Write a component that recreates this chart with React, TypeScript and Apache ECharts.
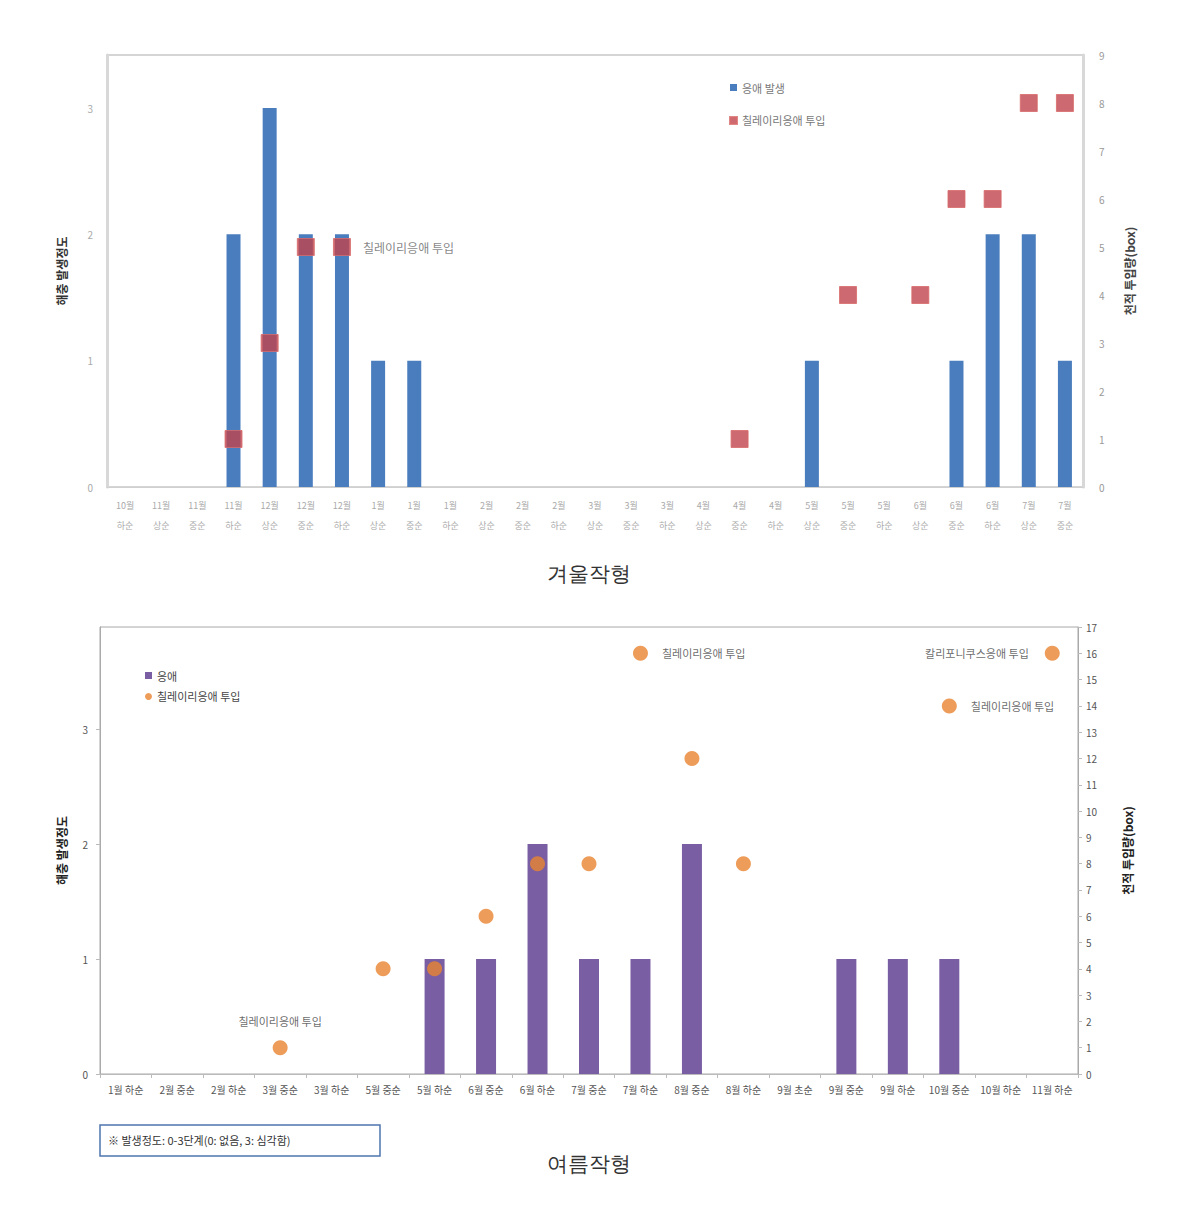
import React, { useEffect, useRef } from "react";
import * as echarts from "echarts";

// ---------- Winter crop (겨울작형) ----------
const winterCategories = [
  "10월\n하순", "11월\n상순", "11월\n중순", "11월\n하순", "12월\n상순", "12월\n중순", "12월\n하순",
  "1월\n상순", "1월\n중순", "1월\n하순", "2월\n상순", "2월\n중순", "2월\n하순",
  "3월\n상순", "3월\n중순", "3월\n하순", "4월\n상순", "4월\n중순", "4월\n하순",
  "5월\n상순", "5월\n중순", "5월\n하순", "6월\n상순", "6월\n중순", "6월\n하순",
  "7월\n상순", "7월\n중순",
];
const winterMites = [null, null, null, 2, 3, 2, 2, 1, 1, null, null, null, null, null, null, null, null, null, null, 1, null, null, null, 1, 2, 2, 1];
const winterRelease = [null, null, null, 1, 3, 5, 5, null, null, null, null, null, null, null, null, null, null, 1, null, null, 4, null, 4, 6, 6, 8, 8];
const winterAnnotIndex = 6;

// ---------- Summer crop (여름작형) ----------
const summerCategories = [
  "1월 하순", "2월 중순", "2월 하순", "3월 중순", "3월 하순", "5월 중순", "5월 하순", "6월 중순", "6월 하순",
  "7월 중순", "7월 하순", "8월 중순", "8월 하순", "9월 초순", "9월 중순", "9월 하순", "10월 중순", "10월 하순", "11월 하순",
];
const summerMites = [null, null, null, null, null, null, 1, 1, 2, 1, 1, 2, null, null, 1, 1, 1, null, null];
const summerRelease = [null, null, null, 1, null, 4, 4, 6, 8, 8, 16, 12, 8, null, null, null, 14, null, 16];

const seriesMite = "응애 발생";
const seriesMiteSummer = "응애";
const seriesRelease = "칠레이리응애 투입";
const labelChilei = "칠레이리응애 투입";
const labelCalif = "칼리포니쿠스응애 투입";
const leftAxisName = "해충 발생정도";
const rightAxisName = "천적 투입량(box)";
const footnote = "※ 발생정도: 0-3단계(0: 없음, 3: 심각함)";

const FONT = "'Noto Sans CJK KR', 'Noto Sans', sans-serif";

function buildWinter(): any {
  const releaseData = winterRelease.map((v, i) => {
    if (i === winterAnnotIndex && v != null) {
      return {
        value: v,
        label: { show: true, position: "right", distance: 12, formatter: labelChilei, color: "#666", fontSize: 12, fontFamily: FONT },
      };
    }
    return v;
  });
  return {
    animation: false,
    textStyle: { fontFamily: FONT },
    grid: { left: 107, right: 94, top: 55, height: 432, show: true, borderColor: "#c8c8c8", borderWidth: 1.5, backgroundColor: "#fff" },
    legend: {
      orient: "vertical",
      left: 724,
      top: 77,
      itemGap: 22,
      itemWidth: 7,
      itemHeight: 7,
      textStyle: { fontSize: 11, color: "#777", fontFamily: FONT },
      data: [
        { name: seriesMite, icon: "rect" },
        { name: seriesRelease, icon: "rect" },
      ],
    },
    xAxis: {
      type: "category",
      data: winterCategories,
      axisLine: { lineStyle: { color: "#d0d0d0" } },
      axisTick: { show: false },
      axisLabel: { color: "#aaa", fontSize: 9, lineHeight: 20, margin: 8, interval: 0 },
    },
    yAxis: [
      {
        type: "value",
        min: 0,
        max: 3.42,
        interval: 1,
        name: leftAxisName,
        nameLocation: "middle",
        nameRotate: 90,
        nameGap: 40,
        nameTextStyle: { fontSize: 12, fontWeight: "bold", color: "#333" },
        axisLine: { show: true, lineStyle: { color: "#d8d8d8", width: 3 } },
        axisTick: { show: false },
        splitLine: { show: false },
        axisLabel: { color: "#aaa", fontSize: 10, margin: 14, showMaxLabel: false },
      },
      {
        type: "value",
        min: 0,
        max: 9,
        interval: 1,
        position: "right",
        name: rightAxisName,
        nameLocation: "middle",
        nameRotate: 90,
        nameGap: 40,
        nameTextStyle: { fontSize: 12, fontWeight: "bold", color: "#444" },
        axisLine: { show: true, lineStyle: { color: "#d8d8d8", width: 3 } },
        axisTick: { show: false },
        splitLine: { show: false },
        axisLabel: { color: "#999", fontSize: 10, margin: 16 },
      },
    ],
    series: [
      {
        name: seriesMite,
        type: "bar",
        data: winterMites,
        barWidth: 14,
        itemStyle: { color: "#4a7dbd" },
        yAxisIndex: 0,
      },
      {
        name: seriesRelease,
        type: "scatter",
        data: releaseData,
        yAxisIndex: 1,
        symbol: "rect",
        symbolSize: 17,
        itemStyle: { color: "#c0444c", borderColor: "#d86a6a", borderWidth: 1 },
        z: 5,
      },
    ],
    graphic: [
      {
        type: "text",
        left: "center",
        top: 563,
        style: { text: "겨울작형", fontSize: 21, fill: "#333", fontFamily: "'DejaVu Serif', serif" },
      },
    ],
  };
}

function buildSummer(): any {
  const releaseData = summerRelease.map((v, i) => {
    if (v == null) return null;
    const cat = summerCategories[i];
    let label: any = null;
    if (cat === "3월 중순") label = { show: true, position: "top", distance: 14, formatter: labelChilei };
    if (cat === "7월 하순") label = { show: true, position: "right", distance: 14, formatter: labelChilei };
    if (cat === "10월 중순") label = { show: true, position: "right", distance: 14, formatter: labelChilei };
    if (cat === "11월 하순") label = { show: true, position: "left", distance: 16, formatter: labelCalif };
    if (label) {
      return { value: v, label: { ...label, color: "#444", fontSize: 11, fontFamily: FONT } };
    }
    return v;
  });
  return {
    animation: false,
    textStyle: { fontFamily: FONT },
    grid: { left: 100, right: 99, top: 27, height: 447, show: true, borderColor: "#a8a8a8", borderWidth: 1, backgroundColor: "#fff" },
    legend: {
      orient: "vertical",
      left: 140,
      top: 65,
      itemGap: 10,
      itemWidth: 7,
      itemHeight: 7,
      textStyle: { fontSize: 11, color: "#444", fontFamily: FONT },
      data: [
        { name: seriesMiteSummer, icon: "rect" },
        { name: seriesRelease, icon: "circle" },
      ],
    },
    xAxis: {
      type: "category",
      data: summerCategories,
      axisLine: { lineStyle: { color: "#bbb" } },
      axisTick: { show: true, length: 4, lineStyle: { color: "#bbb" } },
      axisLabel: { color: "#555", fontSize: 10, margin: 10, interval: 0 },
    },
    yAxis: [
      {
        type: "value",
        min: 0,
        max: 3.887,
        interval: 1,
        name: leftAxisName,
        nameLocation: "middle",
        nameRotate: 90,
        nameGap: 33,
        nameTextStyle: { fontSize: 12, fontWeight: "bold", color: "#222" },
        axisLine: { show: true, lineStyle: { color: "#aaa" } },
        axisTick: { show: true, length: 4, lineStyle: { color: "#bbb" } },
        splitLine: { show: false },
        axisLabel: { color: "#555", fontSize: 10, margin: 12, showMaxLabel: false },
      },
      {
        type: "value",
        min: 0,
        max: 17,
        interval: 1,
        position: "right",
        name: rightAxisName,
        nameLocation: "middle",
        nameRotate: 90,
        nameGap: 43,
        nameTextStyle: { fontSize: 12, fontWeight: "bold", color: "#222" },
        axisLine: { show: true, lineStyle: { color: "#aaa" } },
        axisTick: { show: true, length: 4, lineStyle: { color: "#bbb" } },
        splitLine: { show: false },
        axisLabel: { color: "#555", fontSize: 10, margin: 8 },
      },
    ],
    series: [
      {
        name: seriesMiteSummer,
        type: "bar",
        data: summerMites,
        barWidth: 20,
        itemStyle: { color: "#7a5ea3" },
        yAxisIndex: 0,
      },
      {
        name: seriesRelease,
        type: "scatter",
        data: releaseData,
        yAxisIndex: 1,
        symbol: "circle",
        symbolSize: 15,
        itemStyle: { color: "#e9832f" },
        z: 5,
      },
    ],
    graphic: [
      {
        type: "rect",
        shape: { x: 100, y: 525, width: 280, height: 31 },
        style: { fill: "#fff", stroke: "#4f76b0", lineWidth: 1.5 },
      },
      {
        type: "text",
        x: 108,
        y: 540,
        style: { text: footnote, fontSize: 11, fill: "#333", fontFamily: FONT, verticalAlign: "middle" },
      },
      {
        type: "text",
        left: "center",
        top: 553,
        style: { text: "여름작형", fontSize: 21, fill: "#333", fontFamily: "'DejaVu Serif', serif" },
      },
    ],
  };
}

export default function App() {
  const ref1 = useRef<HTMLDivElement>(null);
  const ref2 = useRef<HTMLDivElement>(null);
  useEffect(() => {
    if (!ref1.current || !ref2.current) return;
    const c1 = echarts.init(ref1.current, null, { renderer: "svg" });
    const c2 = echarts.init(ref2.current, null, { renderer: "svg" });
    c1.setOption(buildWinter());
    c2.setOption(buildSummer());
    return () => {
      c1.dispose();
      c2.dispose();
    };
  }, []);
  return (
    <div style={{ position: "absolute", left: 0, top: 0, width: 1177, height: 1216, background: "#fff", overflow: "hidden" }}>
      <div ref={ref1} style={{ position: "absolute", left: 0, top: 0, width: 1177, height: 600 }} />
      <div ref={ref2} style={{ position: "absolute", left: 0, top: 600, width: 1177, height: 616 }} />
    </div>
  );
}
